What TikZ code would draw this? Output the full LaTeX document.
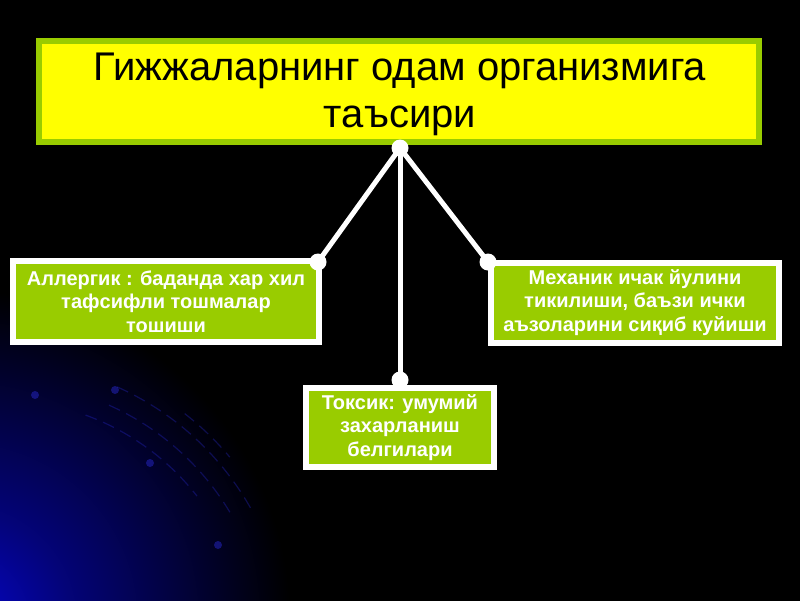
\documentclass[tikz,border=0pt]{standalone}
\usepackage{fontspec}
\setmainfont{Liberation Sans}
\tikzset{>=stealth}
\definecolor{titleyellow}{HTML}{FFFF00}
\definecolor{boxgreen}{HTML}{99CC00}
\definecolor{glowblue}{HTML}{0606C8}
\definecolor{arcblue}{HTML}{2626C8}
\pgfdeclareradialshading{cornerglow}{\pgfpoint{0bp}{0bp}}{%
  color(0bp)=(glowblue); color(2.5bp)=(glowblue!60!black);
  color(7.5bp)=(black); color(50bp)=(black)}
\tikzset{
  titlebox/.style={draw=boxgreen, fill=titleyellow, line width=6pt, inner sep=0pt},
  titletext/.style={align=center, font=\fontsize{40}{47}\selectfont, text=black, inner sep=0pt},
  effectbox/.style={draw=white, fill=boxgreen, line width=6pt, align=center,
    font=\fontsize{20}{23.5}\bfseries\selectfont, text=white, inner sep=0pt},
  joint/.style={circle, fill=white, inner sep=0pt, minimum size=17pt},
  link/.style={white, line width=5pt}
}
\begin{document}
\begin{tikzpicture}[x=1pt, y=-1pt]
    \fill[black] (0,0) rectangle (800,600);
    \useasboundingbox (0,0) rectangle (800,600);
    % blue glow in the lower left corner
    \begin{scope}
        \clip (0,0) rectangle (800,600);
        \shade[shading=cornerglow] (-40,620) circle (1100pt);
        \foreach \r/\a/\b in {250/-70/-38, 268/-66/-30, 288/-66/-29, 300/-52/-40}
            \draw[arcblue, opacity=0.35, line width=1.2pt, dash pattern=on 12pt off 7pt]
                (0,650) ++(\a:\r) arc (\a:\b:\r);
        \foreach \p in {(115,390), (35,395), (150,463), (218,545)}
            \fill[arcblue, opacity=0.5] \p circle (4pt);
    \end{scope}
    % title
    \node[titlebox, minimum width=720pt, minimum height=101pt] (title) at (399,91.5) {};
    \node[titletext] (titlelabel) at (400,94.5)
        {Гижжаларнинг одам организмига\\таъсири};
    % effects
    \node[effectbox, minimum width=306pt, minimum height=81pt] (allergic) at (166,301.5)
        {Аллергик : баданда хар хил\\тафсифли тошмалар\\тошиши};
    \node[effectbox, minimum width=288pt, minimum height=80pt] (mechanic) at (635,302.5)
        {Механик ичак йулини\\тикилиши, баъзи ички\\аъзоларини сиқиб куйиши};
    \node[effectbox, minimum width=188pt, minimum height=79pt] (toxic) at (400,427.5)
        {Токсик: умумий\\захарланиш\\белгилари};
    % joints
    \node[joint] (top) at (400,148) {};
    \node[joint] (jl) at (318,262) {};
    \node[joint] (jr) at (488,262) {};
    \node[joint] (jb) at (400,380) {};
    \draw[link] (top.center) -- (jl.center);
    \draw[link] (top.center) -- (jr.center);
    \draw[link] (top.center) -- (jb.center);
\end{tikzpicture}
\end{document}
